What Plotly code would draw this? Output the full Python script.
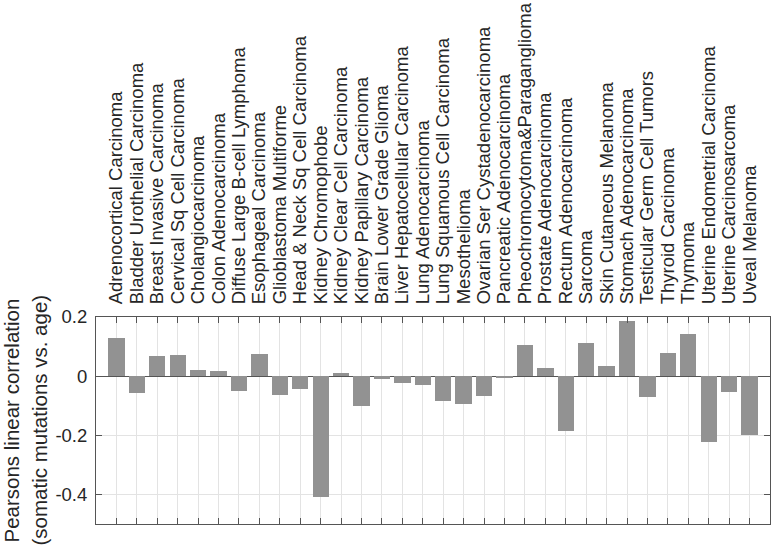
import plotly.graph_objects as go

categories = [
    "Adrenocortical Carcinoma", "Bladder Urothelial Carcinoma", "Breast Invasive Carcinoma",
    "Cervical Sq Cell Carcinoma", "Cholangiocarcinoma", "Colon Adenocarcinoma",
    "Diffuse Large B-cell Lymphoma", "Esophageal Carcinoma", "Glioblastoma Multiforme",
    "Head & Neck Sq Cell Carcinoma", "Kidney Chromophobe", "Kidney Clear Cell Carcinoma",
    "Kidney Papillary Carcinoma", "Brain Lower Grade Glioma", "Liver Hepatocellular Carcinoma",
    "Lung Adenocarcinoma", "Lung Squamous Cell Carcinoma", "Mesothelioma",
    "Ovarian Ser Cystadenocarcinoma", "Pancreatic Adenocarcinoma",
    "Pheochromocytoma&Paraganglioma", "Prostate Adenocarcinoma", "Rectum Adenocarcinoma",
    "Sarcoma", "Skin Cutaneous Melanoma", "Stomach Adenocarcinoma",
    "Testicular Germ Cell Tumors", "Thyroid Carcinoma", "Thymoma",
    "Uterine Endometrial Carcinoma", "Uterine Carcinosarcoma", "Uveal Melanoma",
]
correlation = [
    0.128, -0.056, 0.069, 0.073, 0.020, 0.017, -0.050, 0.076, -0.063, -0.042,
    -0.410, 0.010, -0.102, -0.008, -0.024, -0.029, -0.085, -0.094, -0.066, -0.006,
    0.107, 0.029, -0.186, 0.111, 0.036, 0.186, -0.070, 0.079, 0.143, -0.224,
    -0.053, -0.199,
]
y_ticks = [-0.4, -0.2, 0, 0.2]
y_tick_labels = ["-0.4", "-0.2", "0", "0.2"]
y_title_lines = ["Pearsons linear correlation", "(somatic mutations vs. age)"]

positions = list(range(1, len(categories) + 1))

fig = go.Figure(go.Bar(
    x=positions, y=correlation, width=0.8,
    marker=dict(color="#929292", line=dict(width=0)),
))

axis_color = "#555555"
text_color = "#262626"
fig.update_layout(
    width=771, height=546,
    margin=dict(l=96, r=1, t=317, b=22),
    paper_bgcolor="white", plot_bgcolor="white",
    font=dict(family="Liberation Sans, Arial, sans-serif", size=18.5, color=text_color),
    showlegend=False,
    bargap=0,
)
fig.update_xaxes(
    range=[0, 33], tickvals=positions, ticktext=categories,
    side="top", tickangle=-90, ticks="inside", ticklen=6, tickcolor=axis_color,
    showline=True, linecolor=axis_color, linewidth=1, mirror="ticks",
    showgrid=True, gridcolor="#e3e3e3", gridwidth=1,
    ticklabelstandoff=8, zeroline=False, automargin=False,
)
fig.update_yaxes(
    range=[-0.5, 0.2], tickvals=y_ticks, ticktext=y_tick_labels,
    ticks="inside", ticklen=6, tickcolor=axis_color,
    showline=True, linecolor=axis_color, linewidth=1, mirror="ticks",
    showgrid=True, gridcolor="#e3e3e3", gridwidth=1,
    zeroline=True, zerolinecolor=axis_color, zerolinewidth=1,
    ticklabelstandoff=4, automargin=False,
)

plot_w = 771 - 96 - 1
for xpix, line in zip([11, 39], y_title_lines):
    fig.add_annotation(
        text=line, textangle=-90, showarrow=False,
        xref="paper", yref="paper", x=(xpix - 96) / plot_w, y=0.5,
        xanchor="center", yanchor="middle",
        font=dict(size=20.5, color=text_color),
    )

fig.write_html("out.html", config={"displayModeBar": False},
               post_script="document.body.style.margin='0';")
